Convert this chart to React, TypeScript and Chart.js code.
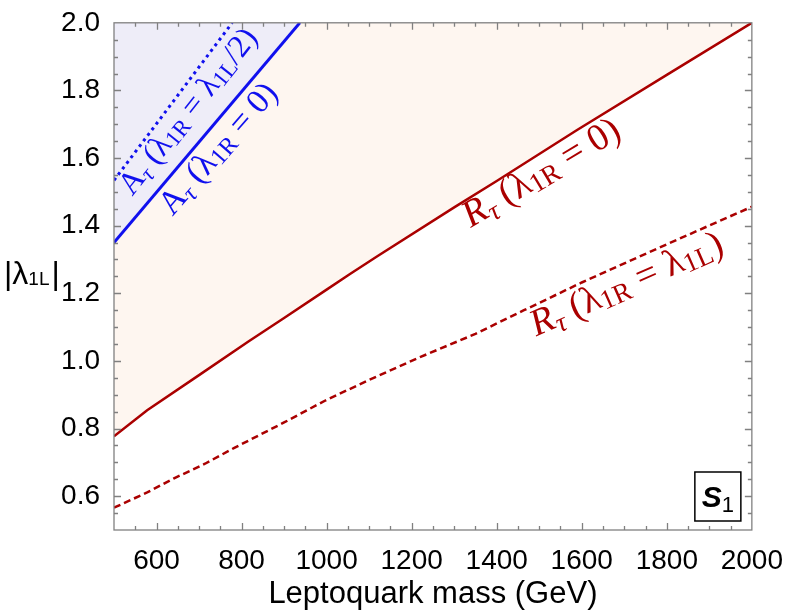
import React, { useEffect, useRef } from 'react';
import { Chart, registerables } from 'chart.js';

Chart.register(...registerables);

// ---- data ----
const massRtauZero = [500, 578, 700, 817, 900, 1000, 1055, 1121, 1300, 1400, 1589, 1800, 2000];
const lambdaRtauZero = [0.777, 0.854, 0.958, 1.058, 1.127, 1.211, 1.257, 1.311, 1.454, 1.532, 1.683, 1.846, 2.0];

const massRtauEq = [500, 578, 640, 714, 783, 900, 997, 1100, 1221, 1350, 1464, 1600, 1800, 2000];
const lambdaRtauEq = [0.566, 0.611, 0.652, 0.696, 0.743, 0.818, 0.883, 0.944, 1.012, 1.08, 1.15, 1.232, 1.345, 1.456];

const massAtauZero = [500, 937];
const lambdaAtauZero = [1.35, 2.0];

const massAtauHalf = [500, 778];
const lambdaAtauHalf = [1.534, 2.0];

const xTickValues = [600, 800, 1000, 1200, 1400, 1600, 1800, 2000];
const yTickValues = [0.6, 0.8, 1.0, 1.2, 1.4, 1.6, 1.8, 2.0];

const RED = '#AA0000';
const BLUE = '#1010EE';
const PEACH = '#FEF6F0';
const LAVENDER = '#EEEDF8';

type Seg = { t: string; s?: number; dy?: number; it?: boolean };

// label texts with anchor (data coordinates of text centre) and angle
const labelTexts: Seg[][] = [
  [{ t: 'A' }, { t: 'τ', s: 0.72, dy: 0.16, it: true }, { t: ' (' }, { t: 'λ' }, { t: '1R', s: 0.72, dy: 0.1 }, { t: ' = ' }, { t: 'λ' }, { t: '1L', s: 0.72, dy: 0.1 }, { t: '/2)' }],
  [{ t: 'A' }, { t: 'τ', s: 0.72, dy: 0.16, it: true }, { t: ' (' }, { t: 'λ' }, { t: '1R', s: 0.72, dy: 0.1 }, { t: ' = 0)' }],
  [{ t: 'R', it: true }, { t: 'τ', s: 0.72, dy: 0.16, it: true }, { t: ' (' }, { t: 'λ' }, { t: '1R', s: 0.72, dy: 0.1 }, { t: ' = 0)' }],
  [{ t: 'R', it: true }, { t: 'τ', s: 0.72, dy: 0.16, it: true }, { t: ' (' }, { t: 'λ' }, { t: '1R', s: 0.72, dy: 0.1 }, { t: ' = ' }, { t: 'λ' }, { t: '1L', s: 0.72, dy: 0.1 }, { t: ')' }],
];
const labelX = [672, 743, 1503, 1704];
const labelY = [1.74, 1.63, 1.56, 1.231];
const labelAngle = [51.5, 49, 31, 24];
const labelColor = [BLUE, BLUE, RED, RED];
const labelSize = [32, 34, 38, 38];

function drawRich(ctx: CanvasRenderingContext2D, segs: Seg[], cx: number, cy: number, ang: number, color: string, size: number) {
  ctx.save();
  ctx.translate(cx, cy);
  ctx.rotate((-ang * Math.PI) / 180);
  ctx.fillStyle = color;
  ctx.textBaseline = 'alphabetic';
  ctx.textAlign = 'left';
  const fontFor = (sg: Seg) => `${sg.it ? 'italic ' : ''}${size * (sg.s ?? 1)}px "Liberation Serif"`;
  let total = 0;
  for (const sg of segs) {
    ctx.font = fontFor(sg);
    total += ctx.measureText(sg.t).width;
  }
  let xx = -total / 2;
  const base = size * 0.33;
  for (const sg of segs) {
    ctx.font = fontFor(sg);
    ctx.fillText(sg.t, xx, base + (sg.dy ?? 0) * size);
    xx += ctx.measureText(sg.t).width;
  }
  ctx.restore();
}

const decorPlugin = {
  id: 'decor',
  afterDatasetsDraw(chart: any) {
    const { ctx, chartArea: ca, scales } = chart;
    const x = scales.x;
    const y = scales.y;
    ctx.save();
    // frame
    ctx.strokeStyle = '#808080';
    ctx.lineWidth = 1.3;
    ctx.strokeRect(ca.left, ca.top, ca.right - ca.left, ca.bottom - ca.top);
    ctx.beginPath();
    for (let v = 550; v < 2000; v += 50) {
      const px = Math.round(x.getPixelForValue(v)) + 0.5;
      const len = v % 200 === 0 ? 7 : 4;
      ctx.moveTo(px, ca.bottom);
      ctx.lineTo(px, ca.bottom - len);
      ctx.moveTo(px, ca.top);
      ctx.lineTo(px, ca.top + len);
    }
    for (let i = 11; i < 40; i++) {
      const py = Math.round(y.getPixelForValue(i * 0.05)) + 0.5;
      const len = i % 4 === 0 ? 7 : 4;
      ctx.moveTo(ca.left, py);
      ctx.lineTo(ca.left + len, py);
      ctx.moveTo(ca.right, py);
      ctx.lineTo(ca.right - len, py);
    }
    ctx.stroke();
    ctx.restore();

    // curve labels
    for (let i = 0; i < labelTexts.length; i++) {
      drawRich(ctx, labelTexts[i], x.getPixelForValue(labelX[i]), y.getPixelForValue(labelY[i]), labelAngle[i], labelColor[i], labelSize[i]);
    }

    // S1 box
    ctx.save();
    const bx = ca.right - 57;
    const by = ca.bottom - 58;
    ctx.fillStyle = '#ffffff';
    ctx.fillRect(bx, by, 46, 49);
    ctx.strokeStyle = '#000000';
    ctx.lineWidth = 1.5;
    ctx.strokeRect(bx, by, 46, 49);
    ctx.fillStyle = '#000000';
    ctx.textBaseline = 'alphabetic';
    ctx.textAlign = 'left';
    ctx.font = 'italic bold 30px "Liberation Sans"';
    ctx.fillText('S', bx + 7, by + 35);
    const sw = ctx.measureText('S').width;
    ctx.font = '22px "Liberation Sans"';
    ctx.fillText('1', bx + 7 + sw, by + 40);
    ctx.restore();
  },
  afterDraw(chart: any) {
    const { ctx, chartArea: ca } = chart;
    ctx.save();
    ctx.fillStyle = '#000000';
    ctx.textBaseline = 'alphabetic';
    // x title
    ctx.textAlign = 'center';
    ctx.font = '31px "Liberation Sans"';
    ctx.fillText('Leptoquark mass (GeV)', (ca.left + ca.right) / 2, 603);
    // y title |λ1L|
    ctx.textAlign = 'left';
    let xx = 4;
    const base = 284;
    ctx.font = '32px "Liberation Sans"';
    ctx.fillText('|λ', xx, base);
    xx += ctx.measureText('|λ').width;
    ctx.font = '19px "Liberation Sans"';
    ctx.fillText('1L', xx, base + 1);
    xx += ctx.measureText('1L').width + 2;
    ctx.font = '32px "Liberation Sans"';
    ctx.fillText('|', xx, base);
    ctx.restore();
  },
};

const toPts = (xs: number[], ys: number[]) => xs.map((v, i) => ({ x: v, y: ys[i] }));

export default function App() {
  const ref = useRef<HTMLCanvasElement | null>(null);
  useEffect(() => {
    if (!ref.current) return;
    const chart = new Chart(ref.current, {
      type: 'line',
      data: {
        datasets: [
          {
            label: 'Rτ (λ1R = 0)',
            data: toPts(massRtauZero, lambdaRtauZero),
            borderColor: RED,
            borderWidth: 2.5,
            backgroundColor: PEACH,
            fill: 'end',
            pointRadius: 0,
            order: 4,
          },
          {
            label: 'Aτ (λ1R = 0)',
            data: toPts(massAtauZero, lambdaAtauZero),
            borderColor: BLUE,
            borderWidth: 3,
            backgroundColor: LAVENDER,
            fill: 'end',
            pointRadius: 0,
            order: 3,
          },
          {
            label: 'Rτ (λ1R = λ1L)',
            data: toPts(massRtauEq, lambdaRtauEq),
            borderColor: RED,
            borderWidth: 2.5,
            borderDash: [7, 4],
            fill: false,
            pointRadius: 0,
            order: 2,
          },
          {
            label: 'Aτ (λ1R = λ1L/2)',
            data: toPts(massAtauHalf, lambdaAtauHalf),
            borderColor: BLUE,
            borderWidth: 3,
            borderDash: [3, 4],
            fill: false,
            pointRadius: 0,
            order: 1,
          },
        ],
      },
      options: {
        animation: false,
        responsive: false,
        events: [],
        layout: { padding: { left: 0, right: 33, top: 15, bottom: 0 } },
        plugins: { legend: { display: false }, tooltip: { enabled: false } },
        scales: {
          x: {
            type: 'linear',
            min: 500,
            max: 2000,
            grid: { display: false },
            border: { display: false },
            afterBuildTicks: (s: any) => {
              s.ticks = xTickValues.map((v) => ({ value: v }));
            },
            afterFit: (s: any) => {
              s.height = 80;
            },
            ticks: {
              color: '#000000',
              padding: 6,
              maxRotation: 0,
              autoSkip: false,
              font: { family: '"Liberation Sans"', size: 28 },
              callback: (v: any) => String(v),
            },
          },
          y: {
            type: 'linear',
            min: 0.5,
            max: 2.0,
            grid: { display: false },
            border: { display: false },
            afterBuildTicks: (s: any) => {
              s.ticks = yTickValues.map((v) => ({ value: v }));
            },
            afterFit: (s: any) => {
              s.width = 114;
            },
            ticks: {
              color: '#000000',
              padding: 6,
              autoSkip: false,
              font: { family: '"Liberation Sans"', size: 28 },
              callback: (v: any) => Number(v).toFixed(1),
            },
          },
        },
      },
      plugins: [decorPlugin],
    });
    return () => chart.destroy();
  }, []);
  return (
    <div style={{ position: 'absolute', left: 0, top: 0, width: 789, height: 610, background: '#ffffff' }}>
      <canvas ref={ref} width={789} height={610} style={{ display: 'block' }} />
    </div>
  );
}
